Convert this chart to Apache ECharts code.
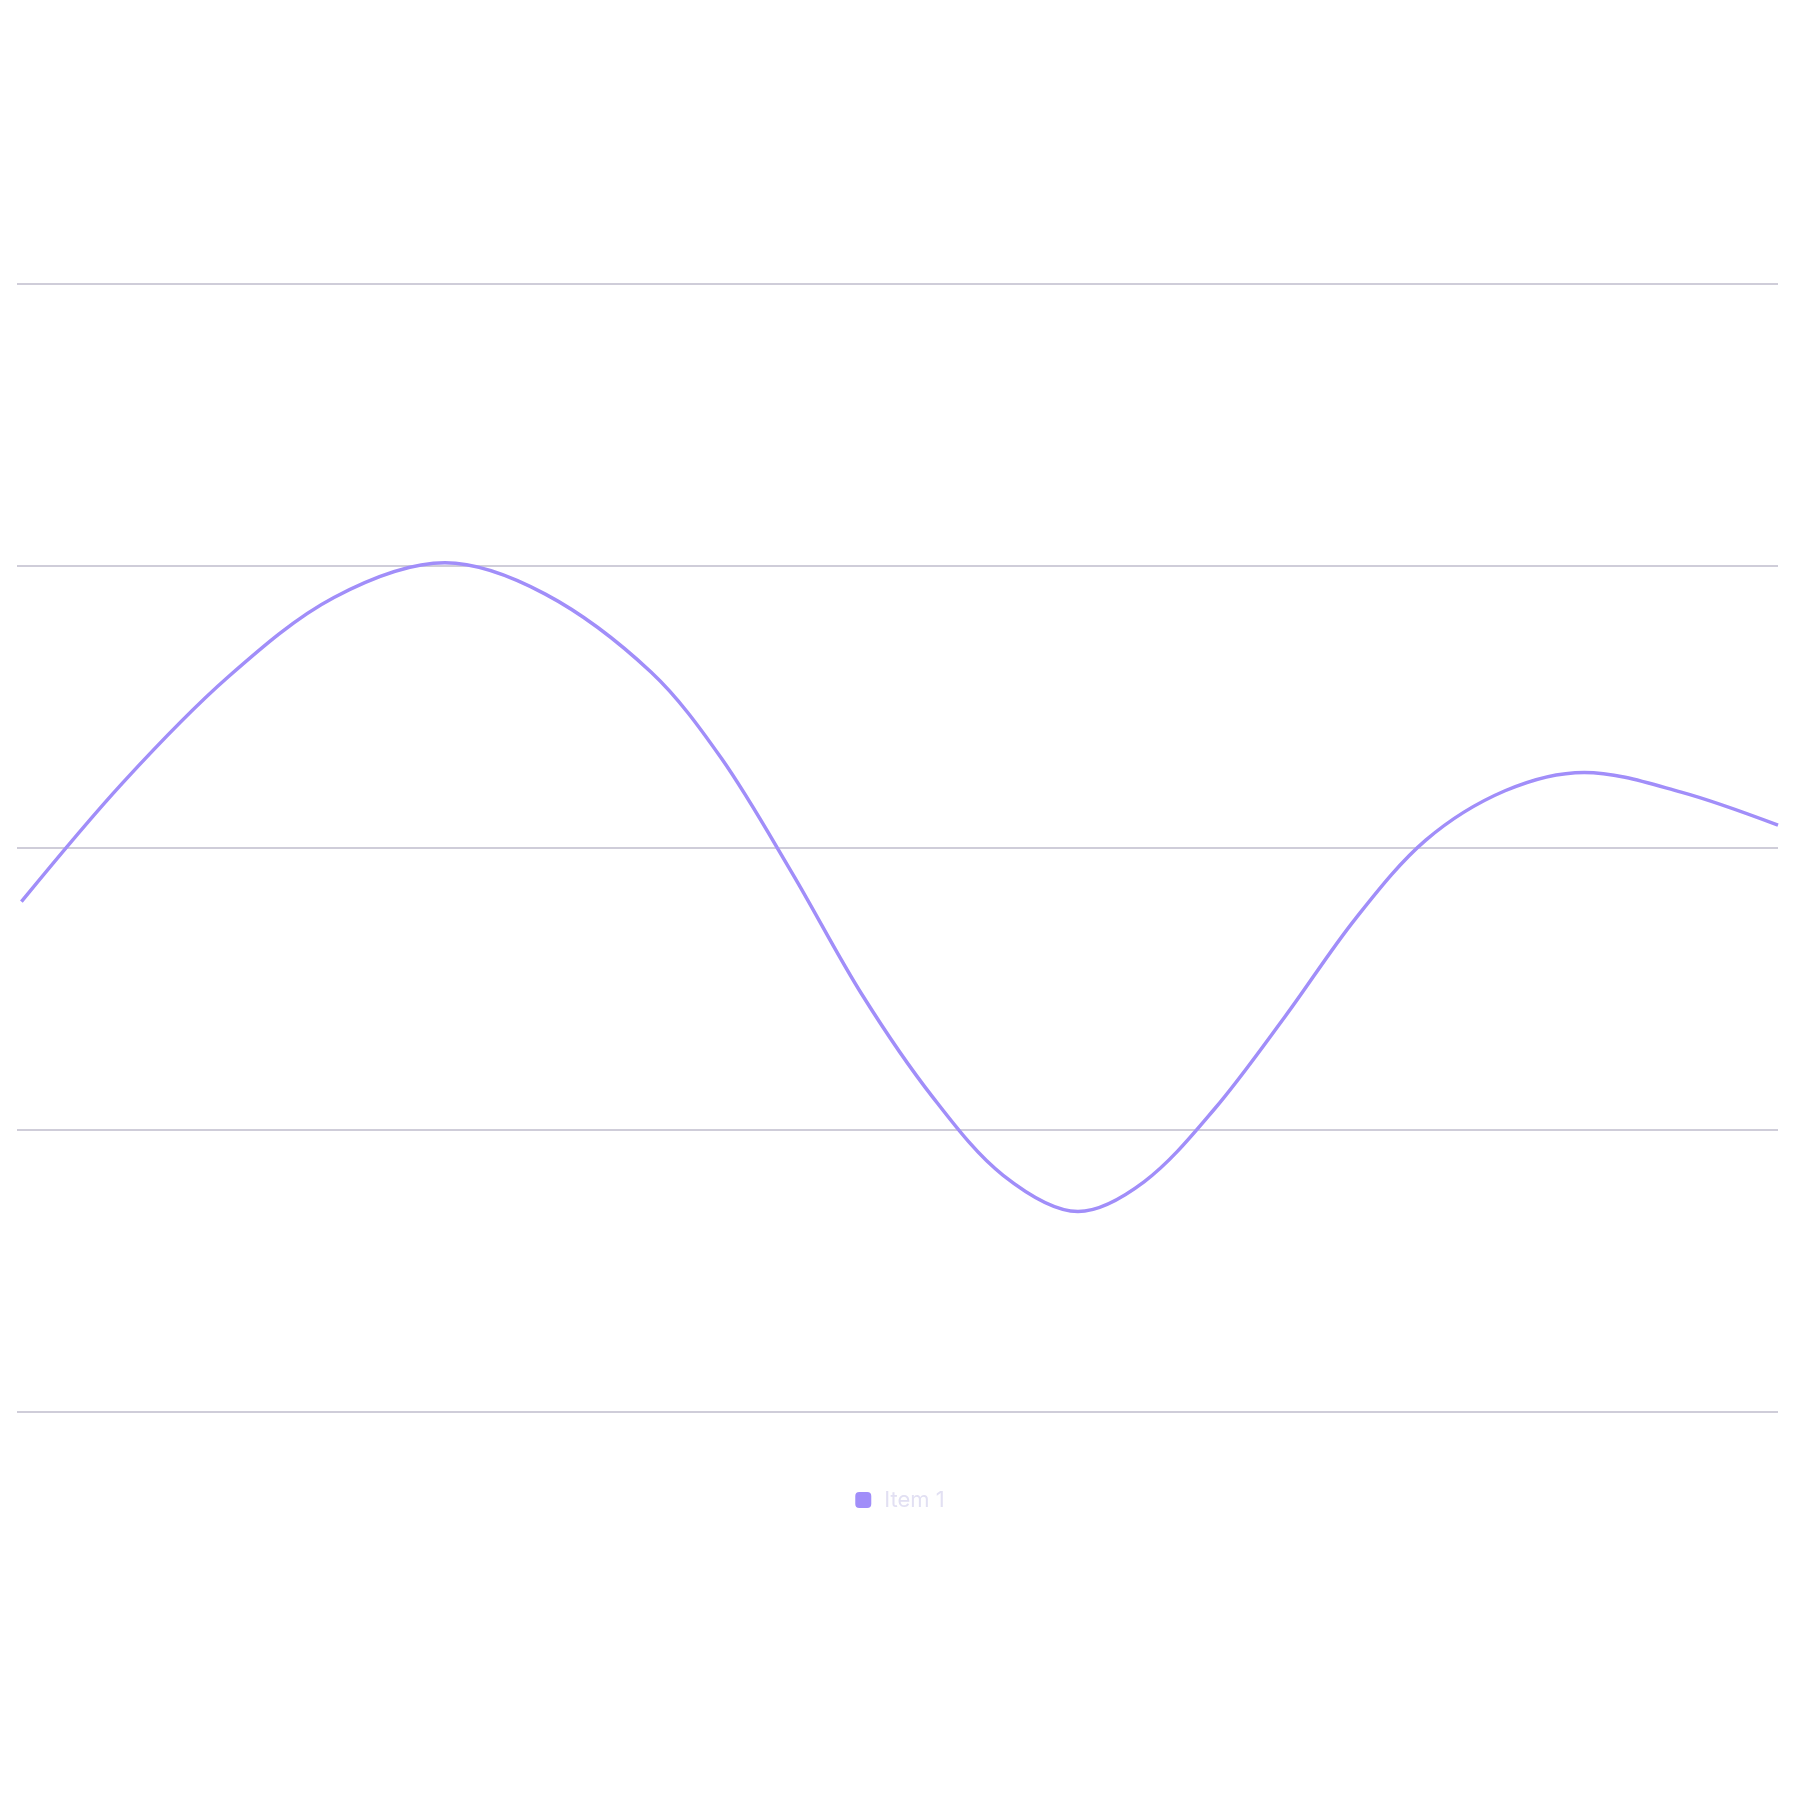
<!DOCTYPE html>
<html lang="en">
<head>
    <meta charset="UTF-8">
    <title>Item 1</title>
    <script src="https://cdn.jsdelivr.net/npm/echarts@6/dist/echarts.min.js"></script>
    <style>
        html, body { margin: 0; padding: 0; background: #fff; }
        #chart-container { width: 1800px; height: 1800px; }
    </style>
</head>
<body>
    <div id="chart-container"></div>
    <script>
        // values (x in % of the plot width)
        const xValues = [0.25, 6, 12, 18, 24.3, 30, 36, 40, 44, 48, 52,
                         56, 60.25, 64, 68, 72, 76, 80, 84.5, 89, 94.5, 100];
        const item1 = [-0.191, 0.230, 0.606, 0.887, 1.010, 0.899, 0.623, 0.317, -0.088, -0.522, -0.884,
                       -1.161, -1.289, -1.184, -0.926, -0.599, -0.252, 0.027, 0.202, 0.267, 0.197, 0.080];
        const seriesName = 'Item 1';

        const points = xValues.map((x, i) => [x, item1[i]]);

        const chart = echarts.init(document.getElementById('chart-container'));

        const option = {
            animation: false,
            color: ['#a18ef9'],
            grid: { left: 17, right: 22, top: 283.5, bottom: 388 },
            legend: {
                data: [seriesName],
                left: 'center',
                top: 1484,
                icon: 'roundRect',
                itemWidth: 16,
                itemHeight: 16,
                textStyle: {
                    color: '#e2e0f3',
                    fontSize: 22,
                    fontFamily: 'Inter',
                    padding: [0, 0, 0, 8]
                }
            },
            xAxis: {
                type: 'value',
                min: 0,
                max: 100,
                axisLine: { show: false },
                axisTick: { show: false },
                axisLabel: { show: false },
                splitLine: { show: false }
            },
            yAxis: {
                type: 'value',
                min: -2,
                max: 2,
                interval: 1,
                axisLine: { show: false },
                axisTick: { show: false },
                axisLabel: { show: false },
                splitLine: { lineStyle: { color: '#cfcdd9', width: 2 } }
            },
            series: [{
                name: seriesName,
                type: 'line',
                data: points,
                smooth: 0.33,
                showSymbol: false,
                lineStyle: { width: 3.5 }
            }]
        };

        chart.setOption(option);
        window.addEventListener('resize', () => chart.resize());
    </script>
</body>
</html>
